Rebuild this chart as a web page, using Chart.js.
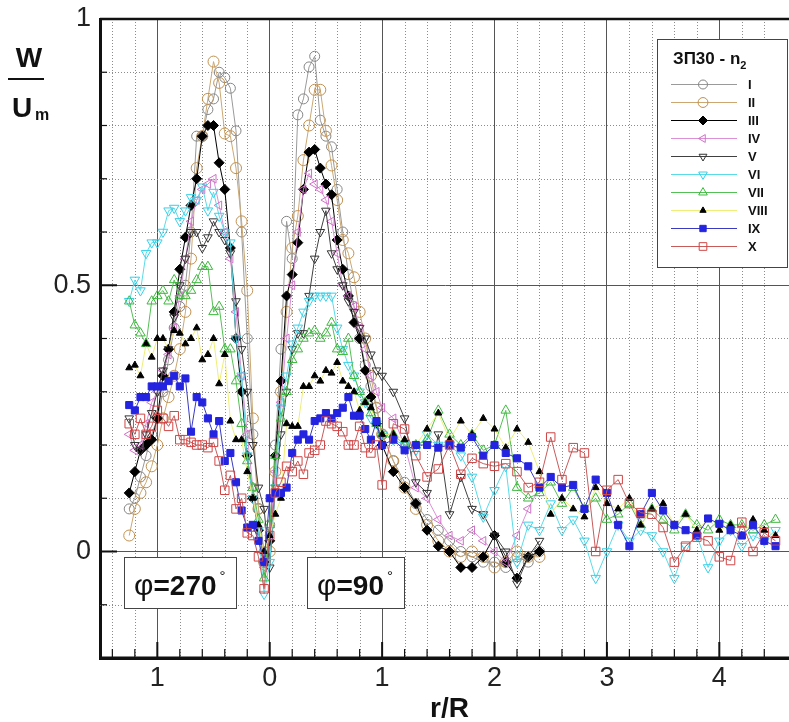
<!DOCTYPE html>
<html><head><meta charset="utf-8">
<script src="https://cdn.jsdelivr.net/npm/chart.js"></script>
<style>html,body{margin:0;padding:0;background:#fff}#wrap{width:789px;height:722px;position:relative}</style>
</head><body><div id="wrap"><canvas id="c" width="789" height="722"></canvas></div>
<script>
// ---- data ----
const xNear = [-1.25,-1.2,-1.15,-1.1,-1.05,-1,-0.95,-0.9,-0.85,-0.8,-0.75,-0.7,-0.65,-0.6,-0.55,-0.5,-0.45,-0.4,-0.35,-0.3,-0.25,-0.2,-0.15,-0.1,-0.05,0,0.05,0.1,0.15,0.2,0.25,0.3,0.35,0.4,0.45,0.5,0.55,0.6,0.65,0.7,0.75,0.8,0.85,0.9,0.95,1];
const xFarShort = [1.1,1.2,1.3,1.4,1.5,1.6,1.7,1.8,1.9,2,2.1,2.2,2.3,2.4];
const xFarLong = [1.1,1.2,1.3,1.4,1.5,1.6,1.7,1.8,1.9,2,2.1,2.2,2.3,2.4,2.5,2.6,2.7,2.8,2.9,3,3.1,3.2,3.3,3.4,3.5,3.6,3.7,3.8,3.9,4,4.1,4.2,4.3,4.4,4.5];
const xShort = xNear.concat(xFarShort);
const xLong = xNear.concat(xFarLong);

const xTickValues = [-1,0,1,2,3,4];
const yTickValues = [0,0.5,1];
const xMinorGrid = [-1.4,-1.2,-0.8,-0.6,-0.4,-0.2,0.2,0.4,0.6,0.8,1.2,1.4,1.6,1.8,2.2,2.4,2.6,2.8,3.2,3.4,3.6,3.8,4.2,4.4];
const yMinorGrid = [-0.1,0.1,0.2,0.3,0.4,0.6,0.7,0.8,0.9];

const seriesNames = ['I','II','III','IV','V','VI','VII','VIII','IX','X'];

const sI = [0.08,0.10,0.14,0.18,0.22,0.25,0.30,0.36,0.42,0.46, 0.50,0.60,0.78,0.78,0.83,0.85,0.90,0.89,0.87,0.79, 0.60,0.40,0.22,0.08,0.00,0.05,0.20,0.38,0.62,0.55, 0.82,0.85,0.91,0.93,0.81,0.78,0.76,0.68,0.60,0.52, 0.46,0.40,0.35,0.31,0.27,0.22,
  0.17,0.13,0.09,0.06,0.04,0.02,0.00,-0.01,-0.02,-0.02,-0.03,-0.01,-0.02,0.00];
const sII = [0.03,0.08,0.11,0.13,0.16,0.20,0.25,0.29,0.33,0.38, 0.45,0.55,0.72,0.78,0.85,0.92,0.88,0.785,0.78,0.72, 0.62,0.49,0.25,0.08,-0.02,0.00,0.15,0.30,0.45,0.57, 0.63,0.735,0.80,0.867,0.867,0.79,0.725,0.66,0.585,0.56, 0.515,0.45,0.40,0.33,0.27,0.22,
  0.17,0.12,0.08,0.05,0.02,0.00,-0.01,0.00,-0.01,-0.03,-0.02,0.00,-0.01,-0.01];
const sIII = [0.11,0.15,0.19,0.20,0.21,0.25,0.33,0.38,0.45,0.53, 0.59,0.65,0.70,0.78,0.80,0.80,0.73,0.68,0.57,0.40, 0.30,0.18,0.10,0.04,-0.02,0.02,0.18,0.32,0.48,0.52, 0.58,0.68,0.75,0.755,0.72,0.69,0.67,0.585,0.53,0.48, 0.43,0.40,0.34,0.29,0.24,0.20,
  0.15,0.12,0.09,0.04,0.01,0.00,-0.03,-0.03,-0.01,0.03,-0.02,-0.05,-0.01,0.00];
const sIV = [0.22,0.19,0.20,0.24,0.28,0.30,0.34,0.37,0.42,0.48, 0.55,0.62,0.66,0.68,0.69,0.70,0.65,0.60,0.55,0.45, 0.33,0.22,0.12,0.04,-0.03,0.03,0.15,0.28,0.40,0.50, 0.60,0.68,0.71,0.69,0.68,0.66,0.62,0.56,0.50,0.48, 0.46,0.42,0.38,0.33,0.30,0.27,
  0.25,0.20,0.12,0.10,0.06,0.03,0.02,0.04,0.02,0.00,-0.02,0.03,0.08,0.12];
const sV = [0.25,0.20,0.19,0.22,0.26,0.30,0.34,0.38,0.44,0.50, 0.55,0.60,0.60,0.57,0.59,0.62,0.60,0.585,0.56,0.47, 0.38,0.30,0.20,0.12,0.08,-0.03,0.12,0.22,0.30,0.38, 0.41,0.41,0.48,0.55,0.60,0.64,0.56,0.53,0.50,0.47, 0.45,0.42,0.40,0.37,0.34,0.33,
  0.30,0.25,0.13,0.11,0.22,0.07,0.14,0.08,0.07,0.03,0.00,-0.06,-0.01,0.02];
const sVI = [0.47,0.51,0.49,0.56,0.58,0.58,0.60,0.64,0.645,0.62, 0.64,0.665,0.66,0.685,0.64,0.675,0.63,0.60,0.58,0.40, 0.33,0.18,0.10,0.04,-0.08,-0.02,0.12,0.27,0.33,0.39, 0.42,0.45,0.47,0.48,0.48,0.48,0.48,0.42,0.38,0.35, 0.33,0.30,0.28,0.25,0.24,0.22,
  0.21,0.20,0.19,0.22,0.20,0.20,0.18,0.14,0.065,0.115, 0.16,-0.02,0.05,0.04,0.09,0.04,0.06,0.02,-0.05,0.00, 0.05,0.02,0.04,0.03,0.00,-0.05,0.01,0.03,-0.03,0.02, 0.04,0.01,0.03,0.02,0.04];
const sVII = [0.47,0.425,0.41,0.39,0.47,0.48,0.49,0.47,0.51,0.48, 0.48,0.49,0.51,0.535,0.535,0.45,0.46,0.38,0.38,0.32, 0.24,0.17,0.12,0.06,-0.05,0.05,0.18,0.25,0.30,0.36, 0.38,0.40,0.41,0.415,0.40,0.41,0.43,0.38,0.375,0.40, 0.33,0.30,0.28,0.26,0.24,0.22,
  0.22,0.20,0.20,0.21,0.265,0.22,0.20,0.22,0.19,0.20, 0.265,0.12,0.10,0.11,0.13,0.09,0.12,0.08,0.10,0.06, 0.07,0.09,0.05,0.08,0.06,0.04,0.07,0.05,0.04,0.06, 0.05,0.05,0.04,0.05,0.06];
const sVIII = [0.345,0.35,0.33,0.39,0.365,0.40,0.40,0.38,0.415,0.41, 0.39,0.40,0.42,0.36,0.37,0.40,0.315,0.37,0.245,0.21, 0.21,0.15,0.10,0.05,0.00,0.03,0.07,0.10,0.24,0.235, 0.235,0.31,0.31,0.33,0.32,0.34,0.335,0.355,0.32,0.31, 0.30,0.265,0.28,0.27,0.24,0.22,
  0.22,0.21,0.20,0.23,0.26,0.21,0.245,0.22,0.25,0.23, 0.195,0.23,0.205,0.15,0.07,0.10,0.08,0.065,0.12,0.09, 0.08,0.10,0.05,0.08,0.09,0.05,0.07,0.04,0.06,0.04, 0.05,0.03,0.06,0.04,0.03];
const sIX = [0.275,0.265,0.29,0.29,0.31,0.31,0.31,0.32,0.33,0.31, 0.325,0.225,0.29,0.28,0.25,0.22,0.245,0.17,0.185,0.13, 0.077,0.045,0.05,0.02,-0.02,0.10,0.11,0.11,0.12,0.185, 0.21,0.22,0.21,0.245,0.25,0.26,0.25,0.26,0.27,0.29, 0.255,0.255,0.23,0.21,0.245,0.20,
  0.21,0.19,0.20,0.20,0.195,0.20,0.195,0.215,0.18,0.20, 0.185,0.175,0.16,0.12,0.14,0.12,0.125,0.08,0.135,0.11, 0.05,0.01,0.07,0.11,0.077,0.05,0.04,0.03,0.062,0.052, 0.04,0.03,0.05,0.02,0.01];
const sX = [0.24,0.22,0.25,0.22,0.235,0.265,0.25,0.235,0.255,0.21, 0.21,0.205,0.20,0.20,0.195,0.205,0.17,0.115,0.143,0.08, 0.10,0.035,0.03,-0.01,-0.07,0.03,0.11,0.13,0.16,0.15, 0.17,0.145,0.185,0.19,0.20,0.245,0.24,0.235,0.225,0.20, 0.20,0.235,0.195,0.185,0.20,0.125,
  0.24,0.23,0.18,0.14,0.155,0.20,0.145,0.175,0.165,0.16, 0.165,0.15,0.12,0.13,0.215,0.135,0.195,0.185,0.00,0.115, 0.135,0.09,0.073,0.07,0.045,-0.02,0.01,0.027,0.02,-0.01, -0.017,0.055,0.00,0.035,0.02];

// ---- styles ----
const styles = [
  {xs:xShort, ys:sI,   line:'#9a9a9a', mk:'#858585', fill:'rgba(0,0,0,0)', shape:'circle',   rot:0,   r:5},
  {xs:xShort, ys:sII,  line:'#cba872', mk:'#c09050', fill:'rgba(0,0,0,0)', shape:'circle',   rot:0,   r:5.5},
  {xs:xShort, ys:sIII, line:'#000000', mk:'#000000', fill:'#000000',       shape:'rectRot',  rot:0,   r:5},
  {xs:xShort, ys:sIV,  line:'#dc90d6', mk:'#d070c8', fill:'rgba(0,0,0,0)', shape:'triangle', rot:-90, r:5},
  {xs:xShort, ys:sV,   line:'#404040', mk:'#333333', fill:'rgba(0,0,0,0)', shape:'triangle', rot:180, r:5},
  {xs:xLong,  ys:sVI,  line:'#5adce8', mk:'#38d0e8', fill:'rgba(0,0,0,0)', shape:'triangle', rot:180, r:5.5},
  {xs:xLong,  ys:sVII, line:'#55c055', mk:'#3cb83c', fill:'rgba(0,0,0,0)', shape:'triangle', rot:0,   r:5.5},
  {xs:xLong,  ys:sVIII,line:'#eeee78', mk:'#000000', fill:'#000000',       shape:'triangle', rot:0,   r:4},
  {xs:xLong,  ys:sIX,  line:'#3a3ac0', mk:'#2323e0', fill:'#2323e0',       shape:'rect',     rot:0,   r:5},
  {xs:xLong,  ys:sX,   line:'#c85a5a', mk:'#d04545', fill:'rgba(0,0,0,0)', shape:'rect',     rot:0,   r:6}
];

const FONT = '"Liberation Sans", Arial, sans-serif';
const PLOT_RIGHT = 789;

const datasets = styles.map((s, i) => ({
  label: seriesNames[i],
  data: s.xs.map((x, k) => ({x: x, y: s.ys[k]})),
  borderColor: s.line,
  backgroundColor: s.fill,
  borderWidth: 1,
  pointStyle: s.shape,
  pointRotation: s.rot,
  pointRadius: s.r,
  pointBorderColor: s.mk,
  pointBackgroundColor: s.fill,
  pointBorderWidth: 1,
  tension: 0,
  fill: false,
  order: 10 - i
}));

function drawMarker(ctx, shape, rot, r, x, y) {
  ctx.save();
  ctx.translate(x, y);
  ctx.rotate(rot * Math.PI / 180);
  ctx.beginPath();
  if (shape === 'circle') ctx.arc(0, 0, r, 0, Math.PI * 2);
  else if (shape === 'rect') { const h = r * Math.SQRT1_2; ctx.rect(-h, -h, 2*h, 2*h); }
  else if (shape === 'rectRot') { ctx.moveTo(0,-r); ctx.lineTo(r,0); ctx.lineTo(0,r); ctx.lineTo(-r,0); ctx.closePath(); }
  else if (shape === 'triangle') { ctx.moveTo(0,-r); ctx.lineTo(r*0.87, r*0.5); ctx.lineTo(-r*0.87, r*0.5); ctx.closePath(); }
  ctx.fill(); ctx.stroke();
  ctx.restore();
}

const stretch = {
  id: 'stretch',
  afterLayout(chart) {
    const a = chart.chartArea;
    a.right = PLOT_RIGHT;
    a.width = a.right - a.left;
    const x = chart.scales.x;
    x.right = PLOT_RIGHT;
    x.width = x.right - x.left;
    x.configure();
  }
};

const decor = {
  id: 'decor',
  beforeDatasetsDraw(chart) {
    const {ctx, chartArea: a, scales: {x, y}} = chart;
    ctx.save();
    ctx.strokeStyle = '#8c8c8c'; ctx.lineWidth = 1; ctx.setLineDash([1, 2]);
    xMinorGrid.forEach(v => { const p = Math.round(x.getPixelForValue(v)) + 0.5; ctx.beginPath(); ctx.moveTo(p, a.top); ctx.lineTo(p, a.bottom); ctx.stroke(); });
    yMinorGrid.forEach(v => { const p = Math.round(y.getPixelForValue(v)) + 0.5; ctx.beginPath(); ctx.moveTo(a.left, p); ctx.lineTo(a.right, p); ctx.stroke(); });
    ctx.setLineDash([]);
    ctx.strokeStyle = '#111';
    ctx.lineWidth = 2;
    xTickValues.forEach(v => { const p = x.getPixelForValue(v); ctx.beginPath(); ctx.moveTo(p, a.bottom); ctx.lineTo(p, a.bottom - 16); ctx.stroke(); });
    yTickValues.forEach(v => { const p = y.getPixelForValue(v); ctx.beginPath(); ctx.moveTo(a.left, p); ctx.lineTo(a.left + 17, p); ctx.stroke(); });
    ctx.lineWidth = 1.2;
    xMinorGrid.forEach(v => { const p = x.getPixelForValue(v); ctx.beginPath(); ctx.moveTo(p, a.bottom); ctx.lineTo(p, a.bottom - 9); ctx.stroke(); });
    yMinorGrid.forEach(v => { const p = y.getPixelForValue(v); ctx.beginPath(); ctx.moveTo(a.left, p); ctx.lineTo(a.left + 7, p); ctx.stroke(); });
    ctx.lineWidth = 2.5;
    ctx.beginPath(); ctx.moveTo(a.left, a.top); ctx.lineTo(a.right, a.top); ctx.stroke();
    ctx.lineWidth = 3;
    ctx.beginPath(); ctx.moveTo(a.left, a.bottom); ctx.lineTo(a.right, a.bottom); ctx.stroke();
    ctx.restore();
  },
  afterDraw(chart) {
    const ctx = chart.ctx;
    ctx.save();
    ctx.fillStyle = '#111';
    ctx.textBaseline = 'alphabetic';
    ctx.font = 'bold 28px ' + FONT;
    ctx.textAlign = 'center';
    ctx.fillText('W', 29, 67);
    ctx.strokeStyle = '#111'; ctx.lineWidth = 2;
    ctx.beginPath(); ctx.moveTo(8, 79); ctx.lineTo(44, 79); ctx.stroke();
    ctx.textAlign = 'left';
    ctx.fillText('U', 12, 117);
    ctx.font = 'bold 16px ' + FONT;
    ctx.fillText('m', 35, 120);
    ctx.font = 'bold 28px ' + FONT;
    ctx.fillText('r/R', 430, 717);

    function phiBox(x0, y0, w, h, num) {
      ctx.fillStyle = '#fff';
      ctx.fillRect(x0, y0, w, h);
      ctx.strokeStyle = '#444'; ctx.lineWidth = 1;
      ctx.strokeRect(x0 + 0.5, y0 + 0.5, w, h);
      ctx.fillStyle = '#111';
      let tx = x0 + 10;
      const by = y0 + 38;
      ctx.font = '30px ' + FONT;
      ctx.fillText('φ', tx, by);
      tx += ctx.measureText('φ').width;
      ctx.font = 'bold 28px ' + FONT;
      const s = '=' + num;
      ctx.fillText(s, tx, by);
      tx += ctx.measureText(s).width + 3;
      ctx.font = '15px ' + FONT;
      ctx.fillText('°', tx, by - 14);
    }
    phiBox(124, 557, 112, 51, '270');
    phiBox(307, 557, 97, 51, '90');

    const lx = 657, ly = 39, lw = 130, lh = 228;
    ctx.fillStyle = '#fff';
    ctx.fillRect(lx, ly, lw, lh);
    ctx.strokeStyle = '#444'; ctx.lineWidth = 1;
    ctx.strokeRect(lx + 0.5, ly + 0.5, lw, lh);
    ctx.fillStyle = '#111';
    ctx.font = 'bold 17px ' + FONT;
    const title = 'ЗП30 - n';
    ctx.fillText(title, 673, 64);
    const tw = ctx.measureText(title).width;
    ctx.font = 'bold 11px ' + FONT;
    ctx.fillText('2', 673 + tw, 69);
    styles.forEach((s, i) => {
      const ry = 84 + i * 18;
      ctx.strokeStyle = s.line; ctx.lineWidth = 1.2;
      ctx.beginPath(); ctx.moveTo(671, ry + 0.5); ctx.lineTo(737, ry + 0.5); ctx.stroke();
      ctx.strokeStyle = s.mk; ctx.fillStyle = s.fill; ctx.lineWidth = 1;
      drawMarker(ctx, s.shape, s.rot, s.r * 0.9, 703, ry + 0.5);
      ctx.fillStyle = '#111';
      ctx.font = 'bold 13px ' + FONT;
      ctx.fillText(seriesNames[i], 748, ry + 5);
    });
    ctx.restore();
  }
};

new Chart(document.getElementById('c'), {
  type: 'line',
  data: {datasets: datasets},
  options: {
    responsive: false,
    animation: false,
    devicePixelRatio: 1,
    layout: {padding: {top: 19, right: 0, bottom: 0, left: 0}},
    plugins: {legend: {display: false}, tooltip: {enabled: false}},
    scales: {
      x: {
        type: 'linear', min: -1.51, max: 4.62,
        afterBuildTicks: ax => { ax.ticks = xTickValues.map(v => ({value: v})); },
        afterFit: ax => { ax.height = 64; ax.paddingLeft = 0; ax.paddingRight = 0; },
        grid: {color: '#555', lineWidth: 1, drawTicks: false},
        border: {color: '#111', width: 3},
        ticks: {callback: v => String(Math.abs(v)), font: {family: FONT, size: 27}, color: '#222', padding: 4, maxRotation: 0, autoSkip: false}
      },
      y: {
        type: 'linear', min: -0.2, max: 1,
        afterBuildTicks: ax => { ax.ticks = yTickValues.map(v => ({value: v})); },
        afterFit: ax => { ax.width = 100; ax.paddingTop = 0; ax.paddingBottom = 0; },
        grid: {color: '#555', lineWidth: 1, drawTicks: false},
        border: {color: '#111', width: 3},
        ticks: {callback: v => String(v), font: {family: FONT, size: 27}, color: '#222', padding: 9}
      }
    }
  },
  plugins: [stretch, decor]
});
</script>
</body></html>
